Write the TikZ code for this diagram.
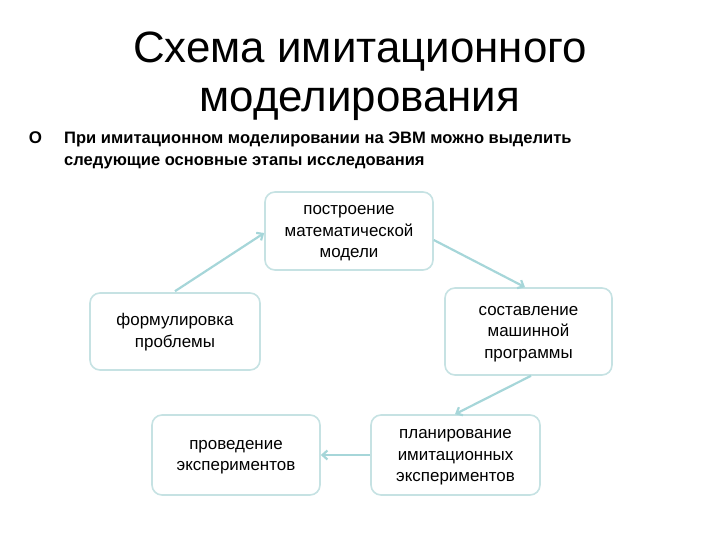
\documentclass[tikz,border=0pt]{standalone}
\usepackage{fontspec}
\setmainfont{Liberation Sans}
\usetikzlibrary{arrows.meta}
\definecolor{boxc}{HTML}{C6E2E3}
\definecolor{arrc}{HTML}{A6D6D9}
\begin{document}
\begin{tikzpicture}[x=1bp,y=-1bp,
  stage/.style={draw=boxc,line width=1.6bp,rounded corners=10bp,fill=white,
    align=center,font=\fontsize{17}{21.5}\selectfont,inner sep=0pt,text depth=4bp},
  three/.style={stage,text height=57bp},
  two/.style={stage,text height=35.5bp},
  conn/.style={draw=arrc,line width=2.2bp,-{Straight Barb[length=5bp,width=9bp]}}]
\useasboundingbox (0,0) rectangle (720,540);
\node (title) at (360,76) [align=center,font=\fontsize{44}{49}\selectfont] {Схема имитационного\\моделирования};
\node (bul) at (35.5,138) [font=\bfseries\fontsize{17}{17}\selectfont,inner sep=0pt] {O};
\node (intro) at (64,150) [anchor=west,align=left,inner sep=0pt,font=\bfseries\fontsize{16.6}{22}\selectfont] {При имитационном моделировании на ЭВМ можно выделить\\следующие основные этапы исследования};
\node (b1) at (349,231) [three,minimum width=168bp,minimum height=78bp] {построение\\математической\\модели};
\node (b2) at (175,331.5) [two,minimum width=170bp,minimum height=77bp] {формулировка\\проблемы};
\node (b3) at (528.5,331.5) [three,minimum width=167bp,minimum height=87bp] {составление\\машинной\\программы};
\node (b4) at (236,455) [two,minimum width=168bp,minimum height=80bp] {проведение\\экспериментов};
\node (b5) at (455.5,455) [three,minimum width=169bp,minimum height=80bp] {планирование\\имитационных\\экспериментов};
\draw[conn] (b2.north) ++(0,-1) coordinate (s1) (s1) -- (b1.west |- 0,233);
\draw[conn] (b1.east |- 0,240) -- (b3.north -| 525,0);
\draw[conn] (b3.south -| 531,0) -- (b5.north -| 455,0);
\draw[conn] (b5.west) -- (b4.east);
\end{tikzpicture}
\end{document}
